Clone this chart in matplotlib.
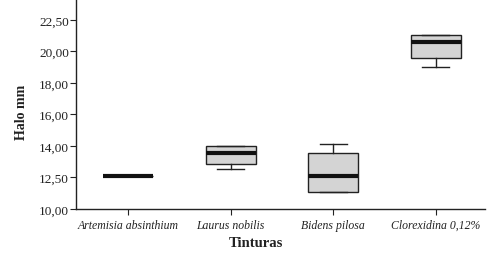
import matplotlib
matplotlib.use("Agg")
import matplotlib.pyplot as plt

categories = ["Artemisia absinthium", "Laurus nobilis", "Bidens pilosa", "Clorexidina 0,12%"]
medians = [12.11, 13.56, 12.11, 20.58]
q1 = [12.11, 12.84, 11.06, 19.57]
q3 = [12.11, 14.02, 13.54, 21.05]
whis_lo = [12.11, 12.52, 11.06, 19.00]
whis_hi = [12.11, 14.02, 14.11, 21.05]
ytick_vals = [10, 12, 14, 16, 18, 20, 22]
ytick_labels = ["10,00", "12,50", "14,00", "16,00", "18,00", "20,00", "22,50"]

plt.rcParams['font.family'] = ['Liberation Serif', 'DejaVu Serif']

fig = plt.figure(figsize=(4.93, 2.55), dpi=100)
ax = fig.add_axes([76/493, 1 - 210/255, (485-76)/493, 210/255])

stats = []
for i, c in enumerate(categories):
    stats.append(dict(med=medians[i], q1=q1[i], q3=q3[i], whislo=whis_lo[i],
                      whishi=whis_hi[i], fliers=[], label=c))

ax.bxp(stats, positions=range(len(categories)), widths=0.49, patch_artist=True,
       showfliers=False,
       boxprops=dict(facecolor='#d4d4d4', edgecolor='#222222', linewidth=1.0),
       medianprops=dict(color='#111111', linewidth=3.0, solid_capstyle='butt'),
       whiskerprops=dict(color='#222222', linewidth=1.0),
       capprops=dict(color='#222222', linewidth=1.0),
       capwidths=0.26)

ax.set_xlim(-0.51, 3.48)
ax.set_ylim(10, 23.33)
ax.set_yticks(ytick_vals)
ax.set_yticklabels(ytick_labels, fontsize=9.5, color='#222222')
ax.set_xticks(range(len(categories)))
ax.set_xticklabels(categories, fontsize=8.5, style='italic', color='#222222')
ax.tick_params(axis='both', direction='out', length=4, width=0.8, color='#222222')
ax.tick_params(axis='x', pad=3)
ax.tick_params(axis='y', pad=1)
for s in ['top', 'right']:
    ax.spines[s].set_visible(False)
for s in ['left', 'bottom']:
    ax.spines[s].set_color('#222222')
    ax.spines[s].set_linewidth(1.0)

ax.set_ylabel("Halo mm", fontsize=10, fontweight='bold', color='#222222')
ax.yaxis.set_label_coords(-0.118, 0.464)
ax.set_xlabel("Tinturas", fontsize=10.5, fontweight='bold', color='#222222')
ax.xaxis.set_label_coords(0.44, -0.13)

fig.savefig("out.png", dpi=100, facecolor='white')
